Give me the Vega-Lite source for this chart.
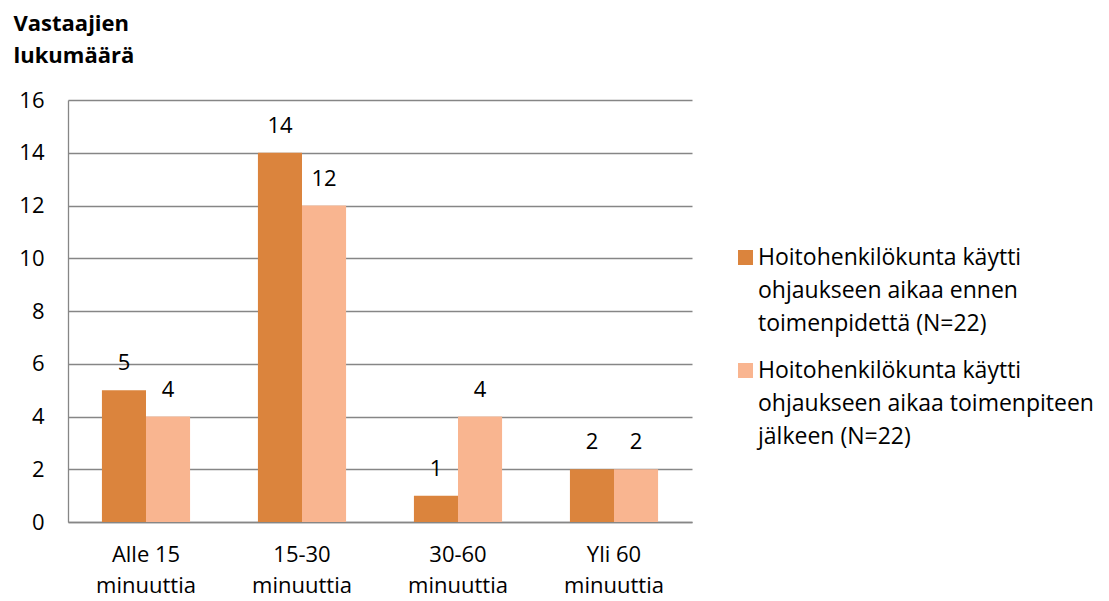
{
  "$schema": "https://vega.github.io/schema/vega-lite/v6.json",
  "width": 624,
  "height": 422,
  "autosize": "none",
  "padding": {"left": 68, "top": 100, "right": 417, "bottom": 79},
  "background": "white",
  "config": {
    "font": "Open Sans",
    "view": {"stroke": null},
    "style": {"guide-label": {"lineHeight": 33}}
  },
  "data": {
    "values": [
      {"aika": "Alle 15 minuuttia", "sarja": "Hoitohenkilökunta käytti ohjaukseen aikaa ennen toimenpidettä (N=22)", "n": 5},
      {"aika": "Alle 15 minuuttia", "sarja": "Hoitohenkilökunta käytti ohjaukseen aikaa toimenpiteen jälkeen (N=22)", "n": 4},
      {"aika": "15-30 minuuttia", "sarja": "Hoitohenkilökunta käytti ohjaukseen aikaa ennen toimenpidettä (N=22)", "n": 14},
      {"aika": "15-30 minuuttia", "sarja": "Hoitohenkilökunta käytti ohjaukseen aikaa toimenpiteen jälkeen (N=22)", "n": 12},
      {"aika": "30-60 minuuttia", "sarja": "Hoitohenkilökunta käytti ohjaukseen aikaa ennen toimenpidettä (N=22)", "n": 1},
      {"aika": "30-60 minuuttia", "sarja": "Hoitohenkilökunta käytti ohjaukseen aikaa toimenpiteen jälkeen (N=22)", "n": 4},
      {"aika": "Yli 60 minuuttia", "sarja": "Hoitohenkilökunta käytti ohjaukseen aikaa ennen toimenpidettä (N=22)", "n": 2},
      {"aika": "Yli 60 minuuttia", "sarja": "Hoitohenkilökunta käytti ohjaukseen aikaa toimenpiteen jälkeen (N=22)", "n": 2}
    ]
  },
  "encoding": {
    "x": {
      "field": "aika",
      "type": "nominal",
      "sort": null,
      "scale": {"paddingInner": 0.435, "paddingOuter": 0.2175},
      "axis": {
        "title": null,
        "labelAngle": 0,
        "labelFontSize": 22,
        "labelColor": "#000000",
        "labelPadding": 22,
        "labelLineHeight": 31,
        "labelExpr": "[slice(datum.label, 0, indexof(datum.label, ' minuuttia')), 'minuuttia']",
        "ticks": false,
        "domainColor": "#868686",
        "domainWidth": 1.3,
        "grid": false
      }
    },
    "xOffset": {"field": "sarja", "type": "nominal"},
    "y": {
      "field": "n",
      "type": "quantitative",
      "scale": {"domain": [0, 16]},
      "axis": {
        "values": [0, 2, 4, 6, 8, 10, 12, 14, 16],
        "title": ["Vastaajien", "lukumäärä"],
        "titleAngle": 0,
        "titleAlign": "left",
        "titleBaseline": "top",
        "titleX": -55,
        "titleY": -87,
        "titleFontSize": 22,
        "titleFontWeight": "bold",
        "titleColor": "#000000",
        "titleLineHeight": 32,
        "labelFontSize": 22,
        "labelColor": "#000000",
        "labelPadding": 24,
        "ticks": false,
        "domainColor": "#868686",
        "domainWidth": 1.3,
        "gridColor": "#868686",
        "gridWidth": 1.3
      }
    }
  },
  "layer": [
    {
      "mark": {"type": "bar"},
      "encoding": {
        "color": {
          "field": "sarja",
          "type": "nominal",
          "scale": {"range": ["#DB843D", "#F9B590"]},
          "legend": {
            "title": null,
            "orient": "none",
            "legendX": 666,
            "legendY": 146,
            "symbolType": "square",
            "symbolSize": 225,
            "symbolStrokeWidth": 0,
            "labelFontSize": 23,
            "labelColor": "#000000",
            "labelLimit": 400,
            "labelOffset": 1,
            "rowPadding": 23,
            "labelExpr": "datum.label == 'Hoitohenkilökunta käytti ohjaukseen aikaa ennen toimenpidettä (N=22)' ? ['Hoitohenkilökunta käytti', 'ohjaukseen aikaa ennen', 'toimenpidettä (N=22)'] : ['Hoitohenkilökunta käytti', 'ohjaukseen aikaa toimenpiteen', 'jälkeen (N=22)']"
          }
        }
      }
    },
    {
      "mark": {"type": "text", "baseline": "alphabetic", "dy": -20, "fontSize": 22, "color": "#000000"},
      "encoding": {
        "text": {"field": "n", "type": "quantitative"}
      }
    }
  ]
}
